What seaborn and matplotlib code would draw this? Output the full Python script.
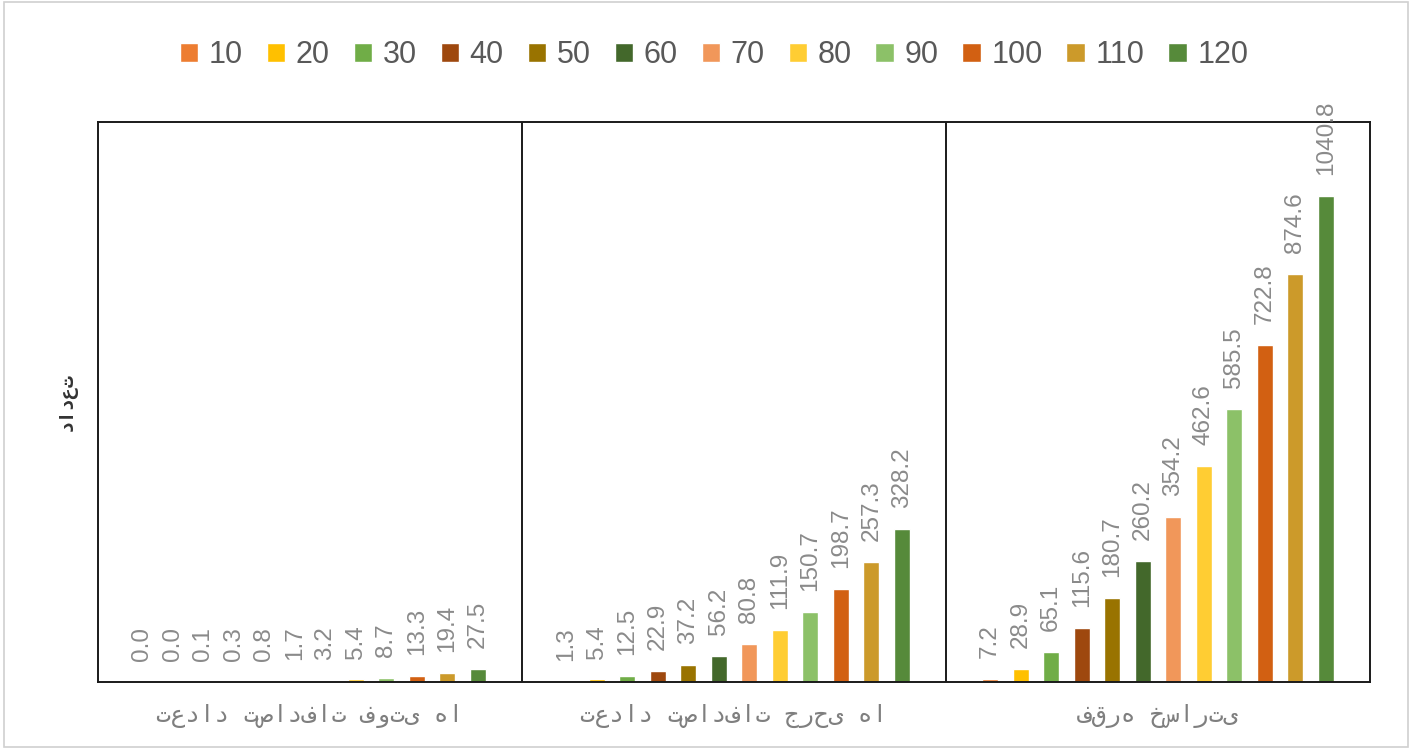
import matplotlib
matplotlib.use("Agg")
import matplotlib.pyplot as plt
import seaborn as sns
import pandas as pd
from matplotlib.patches import Rectangle

# Categories (groups along x) and speed series
groups = ["تعداد تصادفات فوتی ها", "تعداد تصادفات جرحی ها", "فقره خسارتی"]
speeds = ["10", "20", "30", "40", "50", "60", "70", "80", "90", "100", "110", "120"]

deaths = [0.0, 0.0, 0.1, 0.3, 0.8, 1.7, 3.2, 5.4, 8.7, 13.3, 19.4, 27.5]
injuries = [1.3, 5.4, 12.5, 22.9, 37.2, 56.2, 80.8, 111.9, 150.7, 198.7, 257.3, 328.2]
damage = [7.2, 28.9, 65.1, 115.6, 180.7, 260.2, 354.2, 462.6, 585.5, 722.8, 874.6, 1040.8]

colors = ["#ED7D31", "#FFC000", "#70AD47", "#9E480E", "#997300", "#43682B",
          "#F1975A", "#FFCD33", "#8CC168", "#D26012", "#CC9A2A", "#568A3A"]

y_title = "تعداد"

rows = []
for g, vals in zip(groups, [deaths, injuries, damage]):
    for s, v in zip(speeds, vals):
        rows.append({"group": g, "speed": s, "value": v})
df = pd.DataFrame(rows)

sns.set_theme(style="white")
plt.rcParams["font.family"] = ["Liberation Sans", "DejaVu Sans"]

fig = plt.figure(figsize=(14.12, 7.49), dpi=100)
ax = fig.add_axes([98 / 1412, 1 - 682 / 749, (1370 - 98) / 1412, (682 - 122) / 749])

sns.barplot(data=df, x="group", y="value", hue="speed", order=groups,
            hue_order=speeds, palette=colors, saturation=1, width=0.864, gap=0.48,
            errorbar=None, ax=ax, legend=True)

ax.set_xlim(-0.5, 2.5)
ax.set_ylim(0, 1200)
ax.set_yticks([])
ax.set_xlabel("")
# axis title drawn right-to-left, reading upward
ax.set_ylabel(y_title[::-1], family="DejaVu Sans Mono", fontsize=14,
              fontweight="bold", color="#333333")
ax.yaxis.set_label_coords(-0.0165, 0.5)
ax.tick_params(axis="x", length=0, pad=16)
for lbl in ax.get_xticklabels():
    lbl.set_fontfamily("DejaVu Sans Mono")
    lbl.set_fontsize(17.5)
    lbl.set_color("#7f7f7f")

for sp in ax.spines.values():
    sp.set_visible(True)
    sp.set_color("#1a1a1a")
    sp.set_linewidth(1.4)

for xv in (0.5, 1.5):
    ax.axvline(xv, color="#1a1a1a", lw=1.4)

# value labels above bars
for cont in ax.containers:
    ax.bar_label(cont, fmt="%.1f", rotation=90, padding=15, fontsize=17.5,
                 color="#8a8a8a", clip_on=False)

handles, labels = ax.get_legend_handles_labels()
ax.legend_.remove()
fig.legend(handles, labels, loc="center", bbox_to_anchor=(0.5057, 1 - 55 / 749),
           ncol=12, frameon=False, fontsize=22, handlelength=0.6,
           handleheight=0.6, handletextpad=0.35, columnspacing=0.78,
           labelcolor="#595959")

fig.patches.append(Rectangle((0.003, 0.003), 0.994, 0.994, transform=fig.transFigure,
                             fill=False, edgecolor="#d0d0d0", lw=1.2))

fig.savefig("out.png", dpi=100, facecolor="white")
